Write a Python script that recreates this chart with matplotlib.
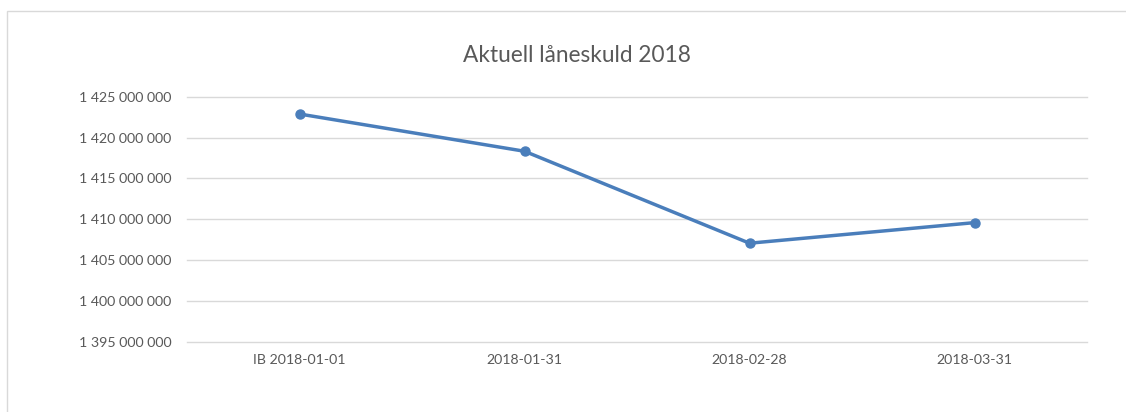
import matplotlib.pyplot as plt
from matplotlib.ticker import FuncFormatter
from matplotlib.patches import Rectangle

categories = ["IB 2018-01-01", "2018-01-31", "2018-02-28", "2018-03-31"]
loan_debt = [1422880000, 1418320000, 1407060000, 1409580000]
y_ticks = [1395000000, 1400000000, 1405000000, 1410000000,
           1415000000, 1420000000, 1425000000]

plt.rcParams['font.family'] = ['Lato', 'DejaVu Sans']

fig = plt.figure(figsize=(11.26, 4.12), dpi=100)
ax = fig.add_axes([187 / 1126, 1 - 341.7 / 412, 900 / 1126, 245 / 412])

x = list(range(len(categories)))
ax.plot(x, loan_debt, color="#4a7ebb", lw=2.5, marker="o", ms=6.5, zorder=3)

ax.set_xlim(-0.5, len(categories) - 0.5)
ax.set_ylim(y_ticks[0], y_ticks[-1])
ax.set_yticks(y_ticks)
ax.yaxis.set_major_formatter(FuncFormatter(lambda v, p: f"{int(v):,}".replace(",", " ")))
ax.set_xticks(x)
ax.set_xticklabels(categories)

ax.grid(axis="y", color="#d9d9d9", lw=1)
for gl in ax.get_ygridlines():
    gl.set_clip_on(False)
ax.set_axisbelow(True)
for s in ax.spines.values():
    s.set_visible(False)
ax.tick_params(length=0, colors="#595959", labelsize=10.2)
ax.tick_params(axis="y", pad=11)
ax.tick_params(axis="x", pad=9)

fig.text(577 / 1126, 1 - 56 / 412, "Aktuell låneskuld 2018", ha="center", va="center",
         fontsize=16.3, color="#595959")

# chart area border
fig.patches.append(Rectangle((7 / 1126, -0.1), 1.2, 1 - 11 / 412 + 0.1,
                             transform=fig.transFigure, fill=False,
                             edgecolor="#d9d9d9", lw=1))

plt.savefig("out.png", dpi=100)
